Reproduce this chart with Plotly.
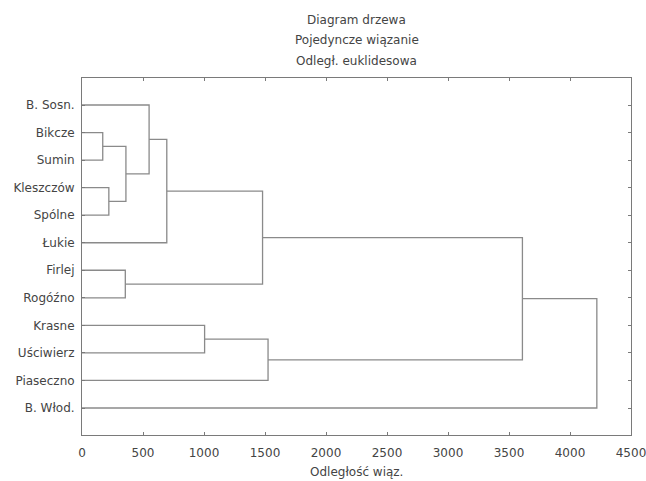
import plotly.graph_objects as go

# Leaves (top to bottom)
leaves = ["B. Sosn.", "Bikcze", "Sumin", "Kleszczów", "Spólne", "Łukie",
          "Firlej", "Rogóźno", "Krasne", "Uściwierz", "Piaseczno", "B. Włod."]

# Linkage: (cluster a, cluster b, linkage distance); new clusters numbered from len(leaves)
merge_a = [1, 3, 12, 0, 15, 6, 16, 8, 19, 18, 21]
merge_b = [2, 4, 13, 14, 5, 7, 17, 9, 10, 20, 11]
merge_h = [170, 220, 360, 550, 695, 355, 1480, 1005, 1525, 3610, 4220]

x_ticks = [0, 500, 1000, 1500, 2000, 2500, 3000, 3500, 4000, 4500]

pos = {i: float(i) for i in range(len(leaves))}
hgt = {i: 0.0 for i in range(len(leaves))}
xs, ys = [], []
for k, (a, b, h) in enumerate(zip(merge_a, merge_b, merge_h)):
    c = len(leaves) + k
    xs += [hgt[a], h, h, hgt[b], None]
    ys += [pos[a], pos[a], pos[b], pos[b], None]
    pos[c] = (pos[a] + pos[b]) / 2
    hgt[c] = h

line_col = "#8a8a8a"
fig = go.Figure()
fig.add_trace(go.Scatter(x=xs, y=ys, mode="lines",
                         line=dict(color=line_col, width=1.3),
                         hoverinfo="skip", showlegend=False))

font = dict(family="DejaVu Sans, sans-serif", size=12, color="#444444")
fig.update_layout(
    width=646, height=481,
    margin=dict(l=82, r=15, t=78, b=46, autoexpand=False),
    paper_bgcolor="white", plot_bgcolor="white",
    font=font, showlegend=False,
    xaxis=dict(range=[0, 4500], tickvals=x_ticks, ticktext=[str(v) for v in x_ticks],
               showgrid=False, zeroline=False, showline=True, linecolor="#7a7a7a",
               linewidth=1, mirror="ticks", ticks="inside", ticklen=3,
               tickcolor="#7a7a7a", tickfont=font, ticklabelstandoff=7,
               automargin=False, ticklabeloverflow="allow"),
    yaxis=dict(range=[11.98, -0.98], tickvals=list(range(len(leaves))), ticktext=leaves,
               showgrid=False, zeroline=False, showline=True, linecolor="#7a7a7a",
               linewidth=1, mirror="ticks", ticks="inside", ticklen=3,
               tickcolor="#7a7a7a", tickfont=font, ticklabelstandoff=4,
               automargin=False),
)

titles = ["Diagram drzewa", "Pojedyncze wiązanie", "Odległ. euklidesowa"]
title_px = [20, 40, 61]
for t, py in zip(titles, title_px):
    fig.add_annotation(text=t, xref="paper", yref="paper", x=0.5,
                       y=1 + (78 - py) / 357, xanchor="center", yanchor="middle",
                       showarrow=False, font=font)
fig.add_annotation(text="Odległość wiąz.", xref="paper", yref="paper", x=0.5,
                   y=(435 - 472) / 357, xanchor="center", yanchor="middle",
                   showarrow=False, font=font)

fig.write_html("out.html", config={"displayModeBar": False},
               post_script="document.body.style.margin='0';document.body.style.overflow='hidden';")
